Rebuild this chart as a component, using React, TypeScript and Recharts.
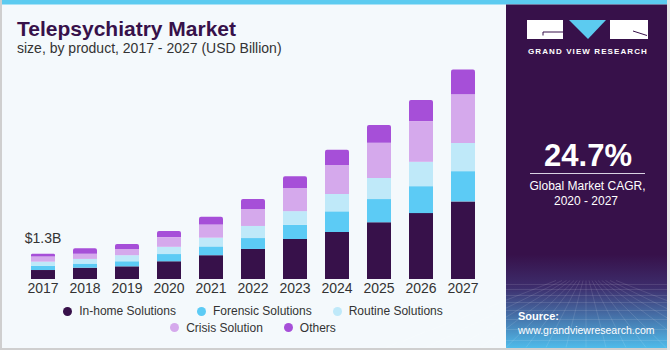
import { BarChart, Bar, XAxis, YAxis, Legend, LabelList } from "recharts";

const years = ["2017", "2018", "2019", "2020", "2021", "2022", "2023", "2024", "2025", "2026", "2027"];
const inHome = [0.46, 0.58, 0.65, 0.91, 1.22, 1.54, 2.05, 2.41, 2.91, 3.38, 3.98];
const forensic = [0.21, 0.21, 0.26, 0.37, 0.45, 0.56, 0.73, 1.06, 1.19, 1.38, 1.55];
const routine = [0.22, 0.24, 0.31, 0.37, 0.45, 0.62, 0.7, 0.89, 1.08, 1.25, 1.45];
const crisis = [0.26, 0.26, 0.32, 0.5, 0.68, 0.87, 1.19, 1.49, 1.81, 2.09, 2.5];
const others = [0.15, 0.29, 0.26, 0.31, 0.39, 0.51, 0.6, 0.78, 0.91, 1.08, 1.27];

const series = [
  { key: "inHome", name: "In-home Solutions", color: "#37114a" },
  { key: "forensic", name: "Forensic Solutions", color: "#5ccbf5" },
  { key: "routine", name: "Routine Solutions", color: "#bfe9f9" },
  { key: "crisis", name: "Crisis Solution", color: "#d5a9ec" },
  { key: "others", name: "Others", color: "#a64fd8" },
];

const data = years.map((year, i) => ({
  year,
  inHome: inHome[i],
  forensic: forensic[i],
  routine: routine[i],
  crisis: crisis[i],
  others: others[i],
}));

const firstTotal = inHome[0] + forensic[0] + routine[0] + crisis[0] + others[0];

const FONT = '"Liberation Sans", Arial, sans-serif';
const PANEL = "#37114a";

function LegendContent() {
  return (
    <div style={{ width: 462, height: 40, paddingTop: 4, boxSizing: "border-box" }}>
      <div
        style={{
          width: 400,
          margin: "0 auto",
          display: "flex",
          flexWrap: "wrap",
          justifyContent: "center",
          columnGap: 21,
          fontSize: 12,
          lineHeight: "16.5px",
          color: "#333",
        }}
      >
        {series.map((s) => (
          <div key={s.key} style={{ display: "flex", alignItems: "center" }}>
            <span
              style={{
                width: 9,
                height: 9,
                borderRadius: "50%",
                background: s.color,
                marginRight: 7,
                display: "inline-block",
              }}
            />
            <span>{s.name}</span>
          </div>
        ))}
      </div>
    </div>
  );
}

function FirstLabel(props: any) {
  const { x, y, width, index } = props;
  if (index !== 0) return null;
  return (
    <text x={x + width / 2} y={y - 11} textAnchor="middle" fontSize={14} fill="#333" fontFamily={FONT}>
      ${firstTotal.toFixed(1)}B
    </text>
  );
}

export default function App() {
  return (
    <div
      style={{
        position: "absolute",
        left: 0,
        top: 0,
        width: 670,
        height: 350,
        background: "#f4f9fc",
        overflow: "hidden",
        fontFamily: FONT,
      }}
    >
      <svg width={670} height={350} style={{ position: "absolute", left: 0, top: 0 }}>
        <defs>
          <linearGradient id="pg" x1="0" y1="0" x2="0" y2="1">
            <stop offset="0%" stopColor={PANEL} />
            <stop offset="35%" stopColor="#3d2d6c" />
            <stop offset="100%" stopColor="#4fbbea" />
          </linearGradient>
        </defs>
        <rect x={0} y={0} width={670} height={4.5} fill="#5ccbf0" />
        <rect x={0} y={0} width={2} height={350} fill="#cfcfcf" />
        <rect x={0} y={348} width={670} height={2} fill="#cfcfcf" />
        <rect x={667} y={0} width={3} height={350} fill="#e6e6e6" />
        <text x={17} y={35.7} fontSize={21} fontWeight="bold" fill={PANEL} fontFamily={FONT}>
          Telepsychiatry Market
        </text>
        <text x={17} y={53.3} fontSize={14} fill="#333" fontFamily={FONT}>
          size, by product, 2017 - 2027 (USD Billion)
        </text>
        <g transform="translate(506,4.5)">
          <rect x={0} y={0} width={161} height={343.5} fill={PANEL} />
          <rect x={0} y={250} width={161} height={93.5} fill="url(#pg)" />
          <g stroke="#ffffff" strokeOpacity={0.16} strokeWidth={0.7} fill="none">
            {[280, 285, 291, 298, 306, 315, 325, 336].map((yy) => (
              <line key={yy} x1={0} y1={yy} x2={161} y2={yy} />
            ))}
            {[-120, -80, -50, -25, 0, 20, 40, 60, 80, 100, 120, 140, 160, 185, 210, 240, 280].map((xx) => (
              <line key={xx} x1={80 + (xx - 80) * 0.15} y1={276} x2={xx} y2={343} />
            ))}
          </g>
          <rect x={21} y={15.5} width={36} height={19} fill="#ffffff" />
          <path d="M37,27.5 H57 M37,27.5 V31" stroke={PANEL} strokeWidth={1} fill="none" />
          <polygon points="63,15.5 100,15.5 82,34.5" fill="#5ccbf0" />
          <rect x={104} y={15.5} width={38} height={19} fill="#ffffff" />
          <path d="M127,26.5 L141,31" stroke={PANEL} strokeWidth={1} fill="none" />
          <text x={82} y={49} fontSize={8} fontWeight="bold" fill="#ffffff" textAnchor="middle" letterSpacing={1.1} fontFamily={FONT}>
            GRAND VIEW RESEARCH
          </text>
          <text x={82} y={161.5} fontSize={31} fontWeight="bold" fill="#ffffff" textAnchor="middle" fontFamily={FONT}>
            24.7%
          </text>
          <line x1={24} y1={169} x2={139} y2={169} stroke="#d9d2e2" strokeWidth={1} />
          <text x={81.5} y={185} fontSize={12} fill="#ffffff" textAnchor="middle" fontFamily={FONT}>
            Global Market CAGR,
          </text>
          <text x={80} y={200.5} fontSize={12} fill="#ffffff" textAnchor="middle" fontFamily={FONT}>
            2020 - 2027
          </text>
          <text x={12} y={315} fontSize={11} fontWeight="bold" fill="#ffffff" fontFamily={FONT}>
            Source:
          </text>
          <text x={12} y={329} fontSize={10.5} fill="#ffffff" fontFamily={FONT}>
            www.grandviewresearch.com
          </text>
        </g>
      </svg>
      <div style={{ position: "absolute", left: 0, top: 0 }}>
        <BarChart
          width={506}
          height={350}
          data={data}
          margin={{ top: 64.5, right: 22, bottom: 11, left: 22 }}
          barSize={24}
        >
          <XAxis
            dataKey="year"
            axisLine={false}
            tickLine={false}
            tickSize={0}
            tickMargin={4}
            interval={0}
            height={20}
            tick={{ fill: "#333", fontSize: 14, fontFamily: FONT }}
          />
          <YAxis hide domain={[0, 11]} />
          <Legend verticalAlign="bottom" align="left" content={<LegendContent />} />
          {series.map((s, i) => (
            <Bar
              key={s.key}
              dataKey={s.key}
              name={s.name}
              stackId="a"
              fill={s.color}
              isAnimationActive={false}
              radius={i === series.length - 1 ? [2, 2, 0, 0] : 0}
            >
              {i === series.length - 1 && <LabelList dataKey={s.key} content={<FirstLabel />} />}
            </Bar>
          ))}
        </BarChart>
      </div>
    </div>
  );
}
